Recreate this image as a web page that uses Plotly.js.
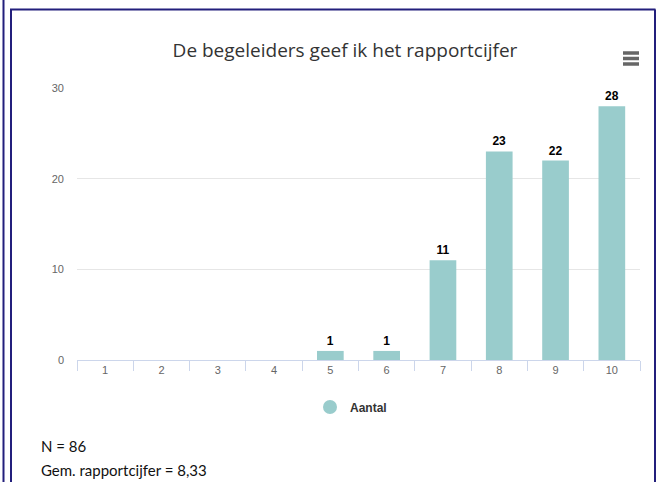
<!DOCTYPE html>
<html>
<head>
<meta charset="utf-8">
<script src="https://cdn.plot.ly/plotly-3.0.1.min.js"></script>
<style>
html,body{margin:0;padding:0;background:#fff;}
#chart{width:662px;height:482px;}
</style>
</head>
<body>
<div id="chart"></div>
<script>
const categories = ['1','2','3','4','5','6','7','8','9','10'];
const aantal = [0,0,0,0,1,1,11,23,22,28];
const yTicks = [0,10,20,30];
const seriesName = 'Aantal';
const chartTitle = 'De begeleiders geef ik het rapportcijfer';
const footLines = ['N = 86', 'Gem. rapportcijfer = 8,33'];

const barColor = '#99cccc';
const L = 77, T = 88, W = 563, H = 272;
const px = v => (v - L) / W;
const py = v => (T + H - v) / H;

const labels = aantal.map(v => v > 0 ? '<b>' + v + '</b>' : '');

const traces = [
  {
    type: 'bar', x: categories, y: aantal, name: seriesName,
    marker: {color: barColor},
    text: labels, textposition: 'outside', cliponaxis: false,
    textfont: {family: 'Liberation Sans, Arial, sans-serif', size: 12, color: '#000'},
    showlegend: false, hoverinfo: 'x+y'
  },
  {
    type: 'scatter', mode: 'markers', x: [null], y: [null], name: seriesName,
    marker: {color: barColor, size: 14, symbol: 'circle'},
    showlegend: true
  }
];

const navy = '#231f7c';
const shapes = [
  {type:'line', xref:'paper', yref:'paper', x0:px(3.5), x1:px(3.5), y0:py(0), y1:py(490), line:{color:navy, width:2}},
  {type:'line', xref:'paper', yref:'paper', x0:px(11), x1:px(11), y0:py(9.5), y1:py(490), line:{color:navy, width:2}},
  {type:'line', xref:'paper', yref:'paper', x0:px(10), x1:px(655.5), y0:py(9.5), y1:py(9.5), line:{color:navy, width:2}},
  {type:'line', xref:'paper', yref:'paper', x0:px(655), x1:px(655), y0:py(9.5), y1:py(490), line:{color:navy, width:2}}
];
[53, 58.5, 64].forEach(yy => {
  shapes.push({type:'line', xref:'paper', yref:'paper', x0:px(623), x1:px(639), y0:py(yy), y1:py(yy), line:{color:'#666666', width:3.5}});
});

const annotations = footLines.map((t, i) => ({
  text: t, xref:'paper', yref:'paper', x: px(39), y: py(446 + i*24),
  xanchor:'left', yanchor:'middle', showarrow:false,
  font:{family:'Lato, sans-serif', size:15, color:'#111'}
}));

const layout = {
  width: 662, height: 482,
  margin: {l: L, r: 662 - L - W, t: T, b: 482 - T - H, pad: 0},
  paper_bgcolor: '#fff', plot_bgcolor: '#fff',
  title: {
    text: chartTitle, x: 345/662, xanchor: 'center', y: 1 - 50/482, yanchor: 'middle',
    font: {family: 'Open Sans, sans-serif', size: 19, color: '#333333'}
  },
  bargap: 0.526,
  xaxis: {
    type: 'category', showline: true, linecolor: '#ccd6eb', linewidth: 1,
    ticks: 'outside', tickson: 'boundaries', ticklen: 10, tickcolor: '#ccd6eb',
    tickfont: {family: 'Liberation Sans, Arial, sans-serif', size: 11, color: '#666666'},
    showgrid: false, zeroline: false, fixedrange: true
  },
  yaxis: {
    range: [0, 30], tickvals: yTicks, ticktext: yTicks.map(String),
    showgrid: true, gridcolor: '#e6e6e6', gridwidth: 1, zeroline: false,
    showline: false, ticks: '', ticklabelstandoff: 12,
    tickfont: {family: 'Liberation Sans, Arial, sans-serif', size: 11, color: '#666666'},
    fixedrange: true
  },
  showlegend: true,
  legend: {
    orientation: 'h', x: px(310), xanchor: 'left', y: py(407), yanchor: 'middle',
    font: {family: 'Liberation Sans, Arial, sans-serif', size: 12, color: '#333333', weight: 'bold'},
    bgcolor: 'rgba(0,0,0,0)'
  },
  shapes: shapes,
  annotations: annotations
};

Plotly.newPlot('chart', traces, layout, {displayModeBar: false, staticPlot: true});
</script>
</body>
</html>
